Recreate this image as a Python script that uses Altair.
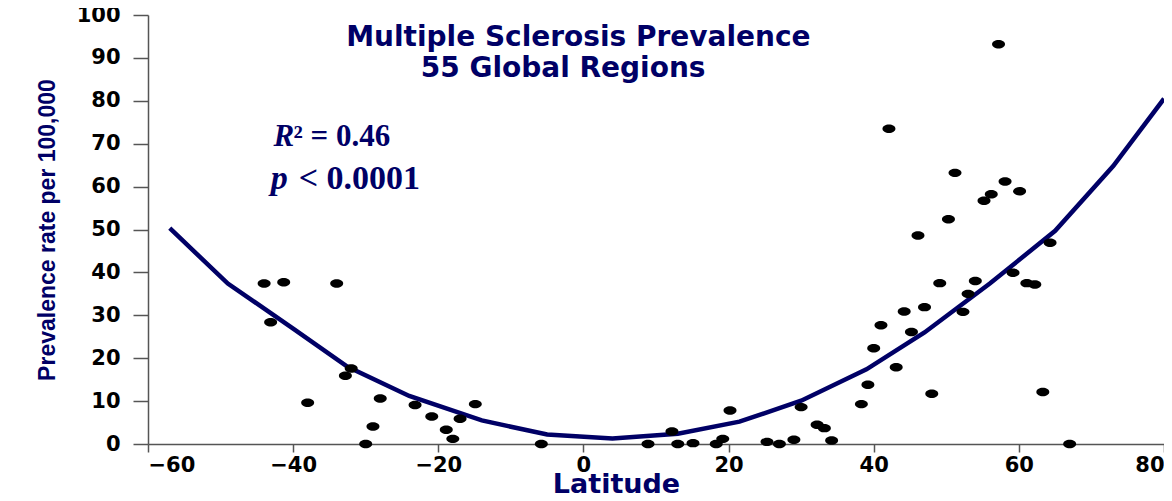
import altair as alt
import pandas as pd

# Observed regions: latitude and MS prevalence per 100,000
lat = [-44.0, -41.3, -43.1, -34.0, -38.0, -32.8, -32.0, -28.0, -29.0, -30.0,
       -23.2, -20.9, -18.9, -18.0, -17.0, -14.9, -5.8,
       8.9, 12.2, 13.0, 15.1, 18.3, 19.2, 20.2, 25.3, 27.0, 29.0, 30.0,
       32.2, 33.2, 34.2, 38.3, 39.2, 43.1, 40.0,
       46.1, 64.3, 59.2, 49.1, 54.0, 61.1, 62.2, 53.0, 52.3, 44.2, 47.0,
       41.0, 45.2, 48.0, 63.3, 67.0,
       57.2, 42.1, 51.2, 58.1, 60.1, 56.2, 55.2, 50.3]
prev = [37.4, 37.7, 28.4, 37.4, 9.6, 15.9, 17.6, 10.6, 4.1, 0.0,
        9.1, 6.4, 3.3, 1.2, 5.9, 9.3, 0.0,
        0.0, 2.9, 0.0, 0.2, 0.0, 1.2, 7.8, 0.5, 0.0, 1.0, 8.6,
        4.5, 3.7, 0.8, 9.3, 13.8, 17.9, 22.3,
        48.6, 46.9, 39.9, 37.5, 38.0, 37.5, 37.2, 35.0, 30.8, 30.9, 31.9,
        27.7, 26.1, 11.7, 12.1, 0.0,
        93.2, 73.5, 63.2, 61.2, 58.9, 58.2, 56.7, 52.4]

# Fitted curve
fit_lat = [-57, -49, -40, -32.5, -24, -14, -5, 4, 13, 21.5, 30, 39, 47, 56, 65, 73, 80]
fit_prev = [50.3, 37.4, 26.9, 18.0, 11.2, 5.5, 2.2, 1.3, 2.4, 5.2, 10.1, 17.4, 26.0, 37.4, 49.7, 64.8, 80.5]

x_ticks = [-60, -40, -20, 0, 20, 40, 60, 80]
y_ticks = [0, 10, 20, 30, 40, 50, 60, 70, 80, 90, 100]

title_lines = ["Multiple Sclerosis Prevalence", "55 Global Regions"]
title_lat = [-0.7, -2.8]
title_prev = [94.6, 87.3]

stat_lat = [-42.7, -43.1]
stat_prev = [71.5, 61.8]

NAVY = "#000066"

pts = pd.DataFrame({"lat": lat, "prev": prev})
fit = pd.DataFrame({"lat": fit_lat, "prev": fit_prev})
ttl = pd.DataFrame({"lat": title_lat, "prev": title_prev, "t": title_lines})
s1 = pd.DataFrame({"lat": [stat_lat[0]], "prev": [stat_prev[0]]})
s2 = pd.DataFrame({"lat": [stat_lat[1]], "prev": [stat_prev[1]]})

xs = alt.Scale(domain=[-60, 80], nice=False, zero=False)
ys = alt.Scale(domain=[0, 100], nice=False)

common = dict(labelFont="DejaVu Sans", labelFontWeight="bold", labelFontSize=21,
              labelColor="black", domainColor="#555555", tickColor="#555555",
              domainWidth=1.5, tickWidth=1.5, grid=False, labelOverlap=False)

xaxis = alt.Axis(values=x_ticks, title="Latitude", tickSize=8, labelPadding=2,
                 titleX=468, titleY=40, titleBaseline="middle", titleAlign="center",
                 titleFont="DejaVu Sans", titleFontSize=27, titleFontWeight="bold",
                 titleColor=NAVY, **common)
yaxis = alt.Axis(values=y_ticks, title="Prevalence rate per 100,000", tickSize=15,
                 labelPadding=13, titleX=-101, titleY=214.5, titleAngle=270,
                 titleBaseline="middle", titleAlign="center",
                 titleFont="Liberation Sans", titleFontSize=23, titleFontWeight="bold",
                 titleColor=NAVY, **common)

X = alt.X("lat:Q", scale=xs, axis=xaxis)
Y = alt.Y("prev:Q", scale=ys, axis=yaxis)

line = alt.Chart(fit).mark_line(color=NAVY, strokeWidth=4.5).encode(x=X, y=Y)

ellipse = "M-1,0 A1,0.65 0 1,1 1,0 A1,0.65 0 1,1 -1,0 Z"
points = alt.Chart(pts).mark_point(shape=ellipse, filled=True, color="black",
                                   opacity=1, size=169).encode(x=X, y=Y)

titles = alt.Chart(ttl).mark_text(font="DejaVu Sans", fontWeight="bold", fontSize=28,
                                  color=NAVY, align="center", baseline="middle").encode(
    x=X, y=Y, text="t:N")

r_it = alt.Chart(s1).mark_text(text="R", font="Liberation Serif", fontStyle="italic",
                               fontWeight="bold", fontSize=31, color=NAVY,
                               align="left", baseline="middle").encode(x=X, y=Y)
r_rest = alt.Chart(s1).mark_text(text="² = 0.46", font="Liberation Serif",
                                 fontWeight="bold", fontSize=31, color=NAVY,
                                 align="left", baseline="middle", dx=20).encode(x=X, y=Y)
p_it = alt.Chart(s2).mark_text(text="p", font="Liberation Serif", fontStyle="italic",
                               fontWeight="bold", fontSize=34, color=NAVY,
                               align="left", baseline="middle").encode(x=X, y=Y)
p_rest = alt.Chart(s2).mark_text(text="< 0.0001", font="Liberation Serif",
                                 fontWeight="bold", fontSize=34, color=NAVY,
                                 align="left", baseline="middle", dx=28).encode(x=X, y=Y)

chart = alt.layer(line, points, titles, r_it, r_rest, p_it, p_rest).properties(
    width=1016, height=429,
    padding={"left": 140, "top": 7, "right": 0, "bottom": 49},
    autosize=alt.AutoSizeParams(type="none"),
    background="white",
).configure_view(stroke=None)

chart.save("out.html", embed_options={"renderer": "svg", "actions": False})
